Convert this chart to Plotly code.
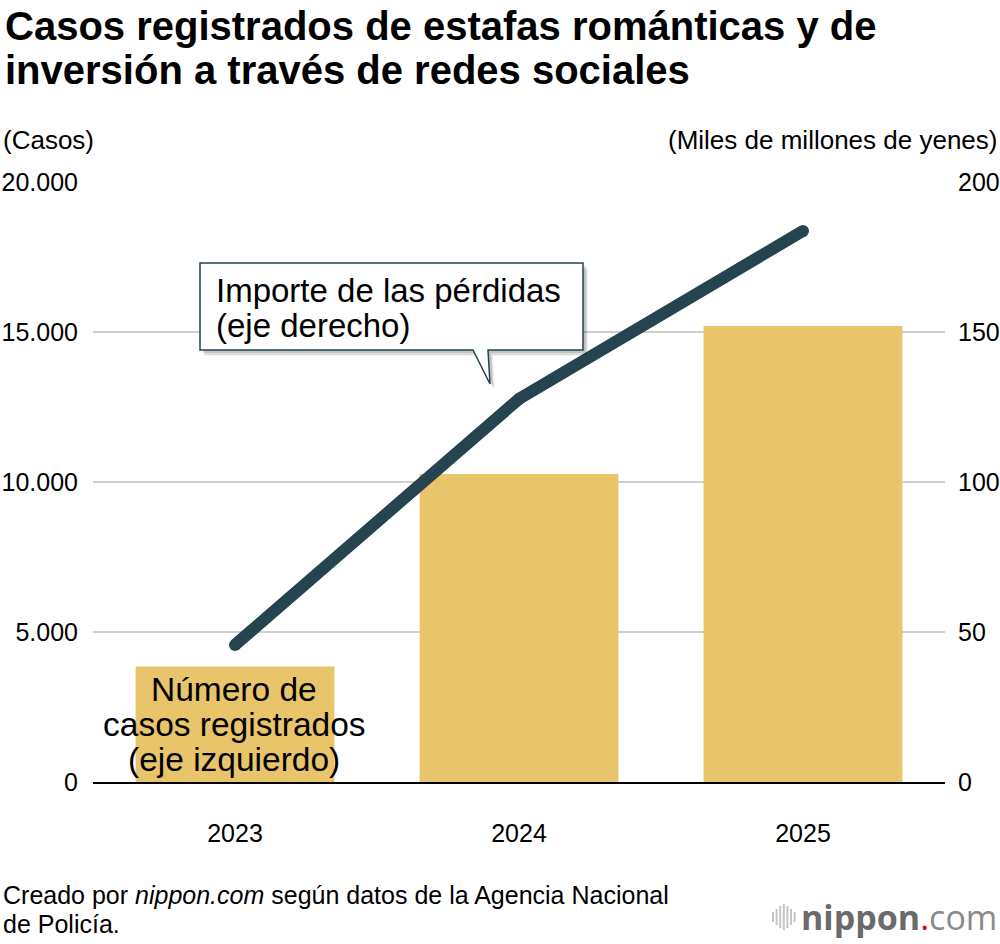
import plotly.graph_objects as go

years = ["2023", "2024", "2025"]
cases = [3850, 10270, 15200]          # left axis (casos)
losses = [45.7, 127.7, 183.7]         # right axis (miles de millones de yenes)
left_ticks = [0, 5000, 10000, 15000, 20000]
left_ticktext = ["0", "5.000", "10.000", "15.000", "20.000"]
right_ticks = [0, 50, 100, 150, 200]
right_ticktext = ["0", "50", "100", "150", "200"]

BAR = "#E8C46A"
LINE = "#25444F"
FONT = "Liberation Sans, Arial, Helvetica, sans-serif"

# plot area in pixels
L, R, T, B = 93, 945, 182, 782
W, H = R - L, B - T
def px(x):
    return (x - L) / W
def py(y):
    return (B - y) / H

fig = go.Figure()
fig.add_trace(go.Bar(x=years, y=cases, marker=dict(color=BAR, line=dict(width=0)),
                     width=0.7, yaxis="y"))
fig.add_trace(go.Scatter(x=years, y=losses, mode="lines+markers", yaxis="y2",
                         line=dict(color=LINE, width=12),
                         marker=dict(color=LINE, size=12, line=dict(width=0))))

anns = []
def txt(text, x, y, size, xanchor="left", yanchor="middle", color="black", bold=False):
    anns.append(dict(text=("<b>%s</b>" % text) if bold else text, x=px(x), y=py(y),
                     xref="paper", yref="paper", showarrow=False, xanchor=xanchor,
                     yanchor=yanchor, font=dict(size=size, color=color, family=FONT)))

# title
txt("Casos registrados de estafas románticas y de", 3, 26, 40, bold=True)
txt("inversión a través de redes sociales", 3, 70, 40, bold=True)
# axis titles
txt("(Casos)", 1, 140, 26)
txt("(Miles de millones de yenes)", 999, 140, 26, xanchor="right")
# callout text
txt("Importe de las pérdidas", 214, 290, 33)
txt("(eje derecho)", 214, 325, 33)
# bar label
txt("Número de", 234, 689, 33.5, xanchor="center")
txt("casos registrados", 234, 724, 33.5, xanchor="center")
txt("(eje izquierdo)", 234, 759, 33.5, xanchor="center")
# footer
txt("Creado por <i>nippon.com</i> según datos de la Agencia Nacional", 1, 895, 25)
txt("de Policía.", 1, 924, 25)
# logo
anns.append(dict(text="<b>nippon</b><span style='color:#e60012'>.</span><span style='color:#8a8a8a'>com</span>",
                 x=px(999), y=py(917), xref="paper", yref="paper", showarrow=False,
                 xanchor="right", yanchor="middle",
                 font=dict(size=34, color="#6a6a6a", family="Open Sans, Liberation Sans, sans-serif")))

shapes = []
def path(pts):
    s = "M " + " L ".join("%f,%f" % (px(x), py(y)) for x, y in pts) + " Z"
    return s
box = [(200, 263), (583, 263), (583, 350), (488, 350), (490, 384), (473, 350), (200, 350)]
for dx, dy, a in [(5, 6, 0.06), (4, 5, 0.08), (3, 3, 0.12)]:
    shapes.append(dict(type="path", xref="paper", yref="paper",
                       path=path([(x + dx, y + dy) for x, y in box]),
                       fillcolor="rgba(0,0,0,%s)" % a, line=dict(width=0), layer="above"))
shapes.append(dict(type="path", xref="paper", yref="paper", path=path(box),
                   fillcolor="white", line=dict(color=LINE, width=1.5), layer="above"))
# logo icon bars
for i, hgt in enumerate([10, 16, 22, 26, 22, 16, 10]):
    x = 773 + i * 3.6
    shapes.append(dict(type="line", xref="paper", yref="paper", x0=px(x), x1=px(x),
                       y0=py(917 - hgt / 2), y1=py(917 + hgt / 2),
                       line=dict(color="#c4c4c4", width=2)))

fig.update_layout(
    width=1000, height=944,
    margin=dict(l=L, r=1000 - R, t=T, b=944 - B, pad=0, autoexpand=False),
    paper_bgcolor="white", plot_bgcolor="white",
    showlegend=False, bargap=0.3,
    font=dict(family=FONT, color="black"),
    xaxis=dict(type="category", showgrid=False, showline=True, linecolor="black", linewidth=2,
               ticks="", tickfont=dict(size=25), ticklabelstandoff=28, automargin=False),
    yaxis=dict(range=[0, 20000], tickvals=left_ticks, ticktext=left_ticktext,
               showgrid=True, gridcolor="#cfcfcf", gridwidth=2, zeroline=False,
               ticks="", tickfont=dict(size=25), ticklabelstandoff=14, showline=False,
               automargin=False),
    yaxis2=dict(range=[0, 200], tickvals=right_ticks, ticktext=right_ticktext,
                overlaying="y", side="right", showgrid=False, zeroline=False,
                ticks="", tickfont=dict(size=25), ticklabelstandoff=12, showline=False,
                automargin=False),
    annotations=anns, shapes=shapes,
)
fig.write_html("out.html")
